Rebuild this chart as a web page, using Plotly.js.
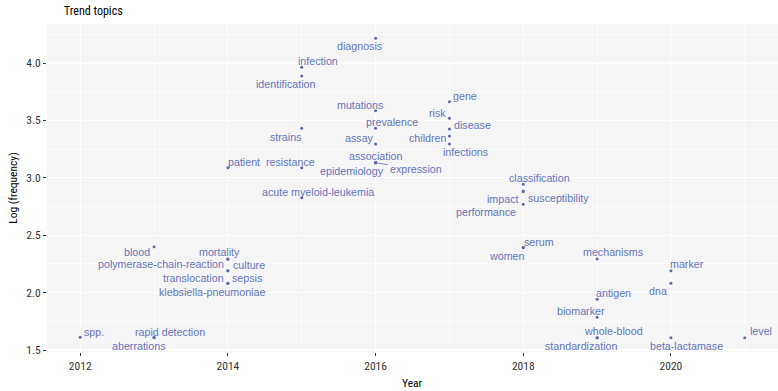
<!DOCTYPE html>
<html>
<head>
<meta charset="utf-8">
<script src="https://cdn.plot.ly/plotly-3.0.1.min.js"></script>
<style>html,body{margin:0;padding:0;background:#fff;}#chart{width:778px;height:391px;}</style>
</head>
<body>
<div id="chart"></div>
<script>
// ---- data ----
var terms = ["diagnosis","infection","identification","mutations","gene","risk","prevalence","disease","strains","children","assay","infections","association","expression","epidemiology","patient","resistance","acute myeloid-leukemia","classification","susceptibility","impact","performance","blood","serum","women","mortality","culture","mechanisms","polymerase-chain-reaction","translocation","marker","sepsis","klebsiella-pneumoniae","dna","antigen","biomarker","spp.","rapid detection","aberrations","whole-blood","standardization","beta-lactamase","level"];
var years = [2016,2015,2015,2016,2017,2017,2016,2017,2015,2017,2016,2017,2016,2016,2016,2014,2015,2015,2018,2018,2018,2018,2013,2018,2018,2014,2014,2019,2014,2014,2020,2014,2014,2020,2019,2019,2012,2013,2013,2019,2019,2020,2021];
var logFreq = [4.215,3.963,3.887,3.585,3.663,3.518,3.431,3.425,3.431,3.364,3.294,3.294,3.135,3.132,3.13,3.088,3.088,2.827,2.943,2.885,2.88,2.77,2.40,2.395,2.39,2.293,2.29,2.293,2.191,2.19,2.191,2.081,2.08,2.081,1.942,1.785,1.611,1.611,1.607,1.607,1.607,1.607,1.607];
var xTicks = [2012,2014,2016,2018,2020];
var yTicks = [1.5,2.0,2.5,3.0,3.5,4.0];
var yTickText = ["1.5","2.0","2.5","3.0","3.5","4.0"];

// ---- label placement (pixel offsets from the point, repel-style) ----
var labelDx = [-16,16,-16,-16,16,-12,16,23,-16,-22,-16,16,0,40,-24,16,-11,16,16,35,-20,-37,-17,16,-16,-8,21,16,-67,-34,16,19,-16,-13,16,-16,14,16,-16,16,-16,16,16];
var labelDy = [8,-6.5,8,-5.7,-6,-5.3,-6,-3.7,8.4,2.3,-5.7,8,-6,6.6,8.3,-6,-6,-6,-6,7.3,7.3,8,5,-5.6,8.4,-7.3,5.3,-6.7,-6.4,7.6,-6.7,-5,8.7,7.4,-6,-6.6,-5,-5,8.7,-6.4,8.3,8.3,-6.4];

var labelColor = "#6575b9";
var labelFont = {family: "Liberation Sans, Arial, sans-serif", size: 10.7, color: labelColor};
var axisFont = "Roboto Condensed, DejaVu Sans Condensed, Liberation Sans Narrow, Roboto, sans-serif";

var annotations = terms.map(function(t, i){
  var a = {x: years[i], y: logFreq[i], xref: "x", yref: "y", text: t, font: labelFont,
           xanchor: "center", yanchor: "middle"};
  if (t === "expression") {
    a.showarrow = true; a.ax = labelDx[i]; a.ay = labelDy[i]; a.arrowhead = 0;
    a.arrowwidth = 0.8; a.arrowcolor = "#5a6aae"; a.standoff = 0; a.startstandoff = 0;
  } else {
    a.showarrow = false; a.xshift = labelDx[i]; a.yshift = -labelDy[i];
  }
  return a;
});
annotations.push({xref: "paper", yref: "paper", x: 0.5, y: -0.0945, yanchor: "middle", showarrow: false,
  text: "Year", font: {family: axisFont, size: 11.5, color: "#000"}});

var trace = {x: years, y: logFreq, mode: "markers", type: "scatter",
  marker: {color: "#5a6aae", size: 3}, hoverinfo: "text", text: terms};

var layout = {
  width: 778, height: 391,
  margin: {l: 47, r: 0, t: 24, b: 39, pad: 0},
  paper_bgcolor: "#ffffff", plot_bgcolor: "#f5f5f5",
  showlegend: false,
  title: {text: "Trend topics", x: 64/778, xanchor: "left", xref: "container",
          y: 1 - 11/391, yanchor: "middle", yref: "container",
          font: {family: axisFont, size: 12, color: "#000"}},
  xaxis: {range: [2011.55, 2021.45], tickvals: xTicks, ticktext: xTicks.map(String),
          showgrid: true, gridcolor: "#ffffff", gridwidth: 1.1, zeroline: false, showline: false,
          ticks: "outside", ticklen: 3, tickcolor: "#333", tickwidth: 1,
          tickfont: {family: axisFont, size: 11.5, color: "#333"},
          minor: {dtick: 1, tick0: 2011, showgrid: true, gridcolor: "#ffffff", gridwidth: 0.6},
          title: {text: ""}},
  yaxis: {range: [1.4826, 4.34], tickvals: yTicks, ticktext: yTickText,
          showgrid: true, gridcolor: "#ffffff", gridwidth: 1.1, zeroline: false, showline: false,
          ticks: "outside", ticklen: 3, tickcolor: "#333", tickwidth: 1,
          tickfont: {family: axisFont, size: 11.5, color: "#333"},
          minor: {tickvals: [1.75,2.25,2.75,3.25,3.75,4.25], showgrid: true, gridcolor: "#ffffff", gridwidth: 0.6},
          title: {text: "Log (frequency)", standoff: 6, font: {family: axisFont, size: 11.5, color: "#000"}}},
  annotations: annotations
};
Plotly.newPlot("chart", [trace], layout, {displayModeBar: false, staticPlot: true});
</script>
</body>
</html>
